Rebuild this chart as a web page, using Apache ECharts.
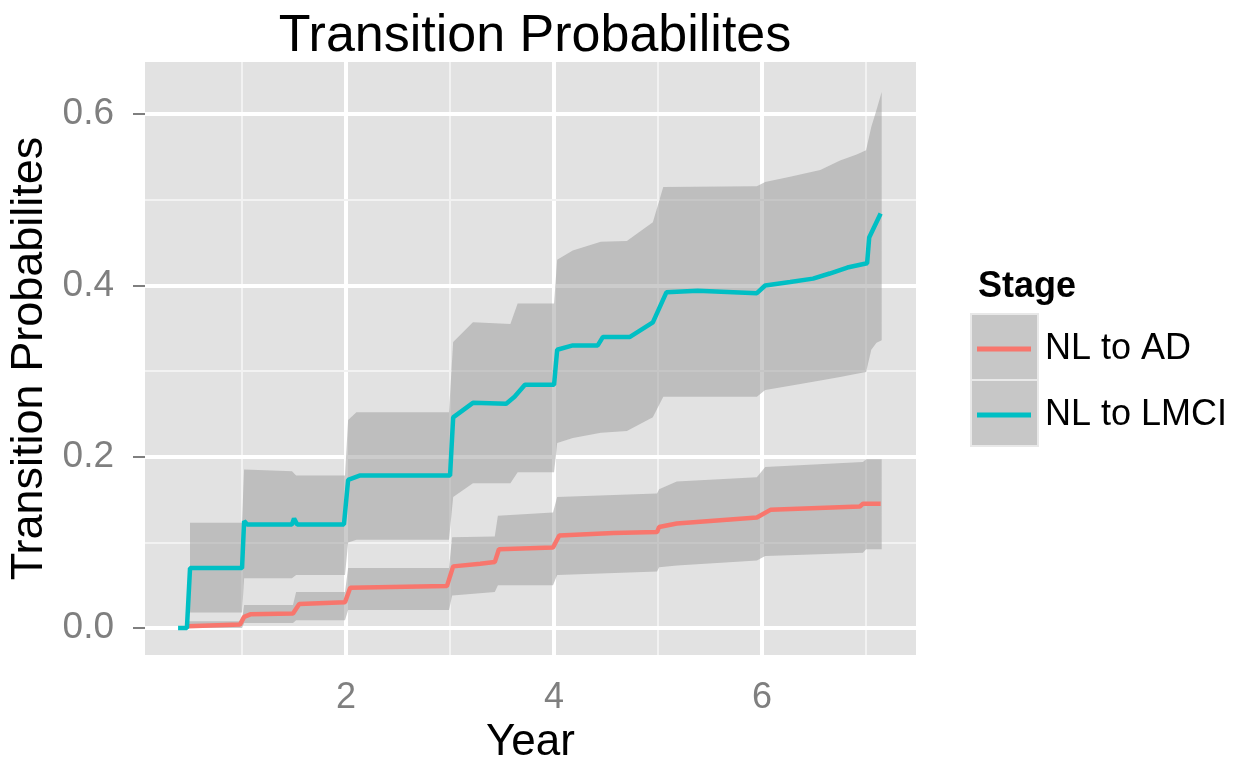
<!DOCTYPE html>
<html>
<head>
<meta charset="utf-8">
<script src="https://cdn.jsdelivr.net/npm/echarts@6/dist/echarts.min.js"></script>
<style>
  html, body { margin: 0; padding: 0; background: #ffffff; }
  #chart { width: 1241px; height: 761px; }
</style>
</head>
<body>
<div id="chart"></div>
<script>
// ---- Data ----
const seriesNames = ['NL to AD', 'NL to LMCI'];
const xTicks = [2, 4, 6];
const xMinor = [1, 3, 5, 7];
const yTicks = [0, 0.2, 0.4, 0.6];
const yMinor = [0.1, 0.3, 0.5];

// NL to AD estimate
const adYear = [0.48, 0.98, 1.02, 1.08, 1.49, 1.55, 1.99, 2.04, 2.97, 3.03, 3.29, 3.43, 3.47, 3.99, 4.05, 4.57, 4.99, 5.01, 5.18, 5.95, 6.08, 6.94, 6.97, 7.14];
const adProb = [0.002, 0.004, 0.013, 0.016, 0.017, 0.028, 0.030, 0.047, 0.049, 0.072, 0.075, 0.077, 0.092, 0.094, 0.108, 0.111, 0.112, 0.118, 0.122, 0.129, 0.138, 0.142, 0.145, 0.145];

// NL to AD confidence band
const adBandYear = [0.48, 1.00, 1.02, 1.49, 1.52, 1.99, 2.02, 2.99, 3.02, 3.43, 3.46, 3.99, 4.03, 4.99, 5.01, 5.18, 5.95, 6.03, 6.97, 7.00, 7.15];
const adLower = [0.000, 0.000, 0.006, 0.006, 0.009, 0.009, 0.021, 0.021, 0.038, 0.042, 0.050, 0.050, 0.062, 0.066, 0.071, 0.073, 0.079, 0.084, 0.088, 0.092, 0.092];
const adUpper = [0.008, 0.008, 0.027, 0.027, 0.042, 0.042, 0.070, 0.070, 0.106, 0.107, 0.131, 0.135, 0.153, 0.157, 0.162, 0.171, 0.176, 0.188, 0.194, 0.197, 0.197];

// NL to LMCI estimate
const lmciYear = [0.385, 0.47, 0.50, 1.00, 1.02, 1.05, 1.48, 1.50, 1.53, 1.98, 2.02, 2.13, 3.00, 3.03, 3.22, 3.54, 3.62, 3.72, 4.00, 4.03, 4.18, 4.42, 4.47, 4.73, 4.95, 5.08, 5.38, 5.95, 6.03, 6.27, 6.49, 6.65, 6.82, 7.01, 7.03, 7.14];
const lmciProb = [0.000, 0.000, 0.070, 0.070, 0.125, 0.121, 0.121, 0.128, 0.121, 0.121, 0.173, 0.178, 0.178, 0.246, 0.263, 0.262, 0.270, 0.284, 0.284, 0.325, 0.330, 0.330, 0.340, 0.340, 0.357, 0.392, 0.394, 0.391, 0.400, 0.404, 0.408, 0.414, 0.421, 0.426, 0.456, 0.484];

// NL to LMCI confidence band
const lmciBandYear = [0.50, 1.00, 1.02, 1.48, 1.52, 1.99, 2.02, 2.10, 2.99, 3.03, 3.22, 3.58, 3.65, 4.00, 4.03, 4.18, 4.45, 4.70, 4.95, 5.05, 5.95, 6.03, 6.27, 6.56, 6.75, 6.91, 7.00, 7.05, 7.10, 7.15];
const lmciLower = [0.018, 0.018, 0.058, 0.058, 0.062, 0.062, 0.100, 0.103, 0.103, 0.153, 0.169, 0.169, 0.182, 0.182, 0.216, 0.222, 0.228, 0.230, 0.246, 0.270, 0.270, 0.278, 0.283, 0.289, 0.293, 0.297, 0.299, 0.325, 0.333, 0.336];
const lmciUpper = [0.123, 0.123, 0.185, 0.183, 0.178, 0.178, 0.243, 0.252, 0.252, 0.334, 0.357, 0.355, 0.379, 0.379, 0.430, 0.441, 0.451, 0.452, 0.474, 0.515, 0.516, 0.521, 0.527, 0.535, 0.546, 0.553, 0.558, 0.585, 0.605, 0.626];

// ---- Build chart ----
const FONT = '"Liberation Sans", Arial, Helvetica, sans-serif';
const zip = (xs, ys) => xs.map((x, i) => [x, ys[i]]);
const bandRows = (xs, lo, up) => xs.map((x, i) => [x, lo[i], up[i]]);

function ribbonRender(params, api) {
  if (params.dataIndex !== 0) return null;
  const n = params.dataInsideLength;
  const top = [], bottom = [];
  for (let i = 0; i < n; i++) {
    top.push(api.coord([api.value(0, i), api.value(2, i)]));
    bottom.push(api.coord([api.value(0, i), api.value(1, i)]));
  }
  return {
    type: 'polygon',
    shape: { points: top.concat(bottom.reverse()) },
    style: { fill: 'rgba(153,153,153,0.5)', stroke: null }
  };
}

const gridLines = [];
xTicks.forEach(v => gridLines.push({ xAxis: v, lineStyle: { color: '#ffffff', width: 4, type: 'solid' } }));
xMinor.forEach(v => gridLines.push({ xAxis: v, lineStyle: { color: '#F2F2F2', width: 2, type: 'solid' } }));
yTicks.forEach(v => gridLines.push({ yAxis: v, lineStyle: { color: '#ffffff', width: 4, type: 'solid' } }));
yMinor.forEach(v => gridLines.push({ yAxis: v, lineStyle: { color: '#F2F2F2', width: 2, type: 'solid' } }));

const chart = echarts.init(document.getElementById('chart'), null, { renderer: 'canvas' });
chart.setOption({
  animation: false,
  backgroundColor: '#ffffff',
  textStyle: { fontFamily: FONT },
  title: [
    {
      text: 'Transition Probabilites',
      left: 530, top: 6, textAlign: 'center',
      textStyle: { fontFamily: FONT, fontSize: 52, fontWeight: 'normal', color: '#000000' }
    },
    {
      text: 'Stage',
      left: 973, top: 264,
      textStyle: { fontFamily: FONT, fontSize: 36, fontWeight: 'bold', color: '#000000' }
    }
  ],
  legend: {
    data: seriesNames,
    orient: 'vertical',
    left: 977, top: 316,
    padding: 0,
    itemGap: 0,
    itemWidth: 54, itemHeight: 5,
    icon: 'rect',
    textStyle: { fontFamily: FONT, fontSize: 36, color: '#000000', lineHeight: 66, padding: [0, 0, 0, 9] },
    selectedMode: false
  },
  graphic: [
    { type: 'rect', left: 970, top: 313, shape: { width: 67, height: 66 }, style: { fill: '#C7C7C7', stroke: '#E8E8E8', lineWidth: 2 }, z: -1 },
    { type: 'rect', left: 970, top: 379, shape: { width: 67, height: 66 }, style: { fill: '#C7C7C7', stroke: '#E8E8E8', lineWidth: 2 }, z: -1 }
  ],
  grid: {
    left: 145, right: 325, top: 62, bottom: 106,
    outerBoundsMode: 'none',
    containLabel: false,
    show: true, backgroundColor: '#E2E2E2', borderWidth: 0
  },
  xAxis: {
    type: 'value',
    min: 0.067, max: 7.48,
    splitNumber: 3,
    name: 'Year',
    nameLocation: 'middle',
    nameGap: 66,
    nameTextStyle: { fontFamily: FONT, fontSize: 44, color: '#000000' },
    axisLine: { show: false },
    axisTick: { show: true, length: 12, customValues: xTicks, lineStyle: { color: '#7F7F7F', width: 2 } },
    axisLabel: { customValues: xTicks, margin: 25, fontFamily: FONT, fontSize: 36, color: '#7F7F7F' },
    splitLine: { show: false },
    minorSplitLine: { show: false }
  },
  yAxis: {
    type: 'value',
    min: -0.0315, max: 0.661,
    splitNumber: 3,
    name: 'Transition Probabilites',
    nameLocation: 'middle',
    nameGap: 79,
    nameTextStyle: { fontFamily: FONT, fontSize: 45, color: '#000000' },
    axisLine: { show: false },
    axisTick: { show: true, length: 12, customValues: yTicks, lineStyle: { color: '#7F7F7F', width: 2 } },
    axisLabel: {
      customValues: yTicks, margin: 31,
      fontFamily: FONT, fontSize: 37, color: '#7F7F7F',
      formatter: v => v.toFixed(1)
    },
    splitLine: { show: false }
  },
  series: [
    {
      name: 'NL to AD band',
      type: 'custom',
      renderItem: ribbonRender,
      data: bandRows(adBandYear, adLower, adUpper),
      encode: { x: 0, y: [1, 2] },
      z: 3,
      silent: true,
      markLine: {
        silent: true, symbol: 'none', z: 1, animation: false,
        label: { show: false },
        data: gridLines
      }
    },
    {
      name: 'NL to LMCI band',
      type: 'custom',
      renderItem: ribbonRender,
      data: bandRows(lmciBandYear, lmciLower, lmciUpper),
      encode: { x: 0, y: [1, 2] },
      z: 3,
      silent: true
    },
    {
      name: 'NL to AD',
      type: 'line',
      data: zip(adYear, adProb),
      showSymbol: false,
      symbol: 'none',
      lineStyle: { color: '#F8766D', width: 4.5 },
      itemStyle: { color: '#F8766D' },
      z: 5
    },
    {
      name: 'NL to LMCI',
      type: 'line',
      data: zip(lmciYear, lmciProb),
      showSymbol: false,
      symbol: 'none',
      lineStyle: { color: '#00BFC4', width: 4.5 },
      itemStyle: { color: '#00BFC4' },
      z: 5
    }
  ]
});
</script>
</body>
</html>
